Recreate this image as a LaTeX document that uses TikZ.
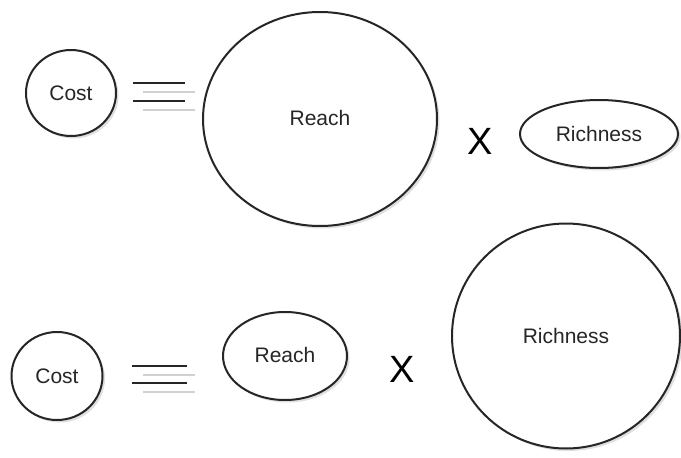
\documentclass[tikz,border=0pt]{standalone}
\usepackage{fontspec}
\setmainfont{Liberation Sans}
\usetikzlibrary{shapes.geometric,shadows}
\definecolor{edge}{HTML}{262626}
\definecolor{txt}{HTML}{262626}
\tikzset{
  bubble/.style={ellipse, draw=edge, line width=2pt, fill=white, inner sep=0pt,
    text=txt, font=\fontsize{21}{24}\selectfont,
    drop shadow={opacity=0.25, shadow xshift=2.5pt, shadow yshift=-2.5pt}},
  times/.style={inner sep=0pt, font=\fontsize{38}{40}\selectfont, text=black},
  eqline/.style={line width=2.8pt, draw=edge},
  eqshade/.style={line width=1.4pt, draw=black!18}
}
\begin{document}
\begin{tikzpicture}[x=1pt,y=-1pt]
\useasboundingbox[fill=white] (0,0) rectangle (681,458);
% top row
\node[bubble, minimum width=90pt, minimum height=86pt] (cost1) at (71,93) {Cost};
\draw[eqshade] (143,92) -- (195,92);
\draw[eqshade] (143,110) -- (195,110);
\draw[eqline] (133,83) -- (185,83);
\draw[eqline] (133,101) -- (185,101);
\node[bubble, minimum width=234pt, minimum height=214pt] (reach1) at (320,119) {\raisebox{3pt}{Reach}};
\node[times] (x1) at (480,141) {X};
\node[bubble, minimum width=158pt, minimum height=68pt] (rich1) at (599,134) {Richness};
% bottom row
\node[bubble, minimum width=91pt, minimum height=88pt] (cost2) at (57,376) {Cost};
\draw[eqshade] (143,375) -- (195,375);
\draw[eqshade] (143,392) -- (195,392);
\draw[eqline] (132,366) -- (187,366);
\draw[eqline] (132,383) -- (187,383);
\node[bubble, minimum width=124pt, minimum height=88pt] (reach2) at (285,356) {\raisebox{3pt}{Reach}};
\node[times] (x2) at (402,369) {X};
\node[bubble, minimum width=228pt, minimum height=225pt] (rich2) at (566,336) {Richness};
\end{tikzpicture}
\end{document}
